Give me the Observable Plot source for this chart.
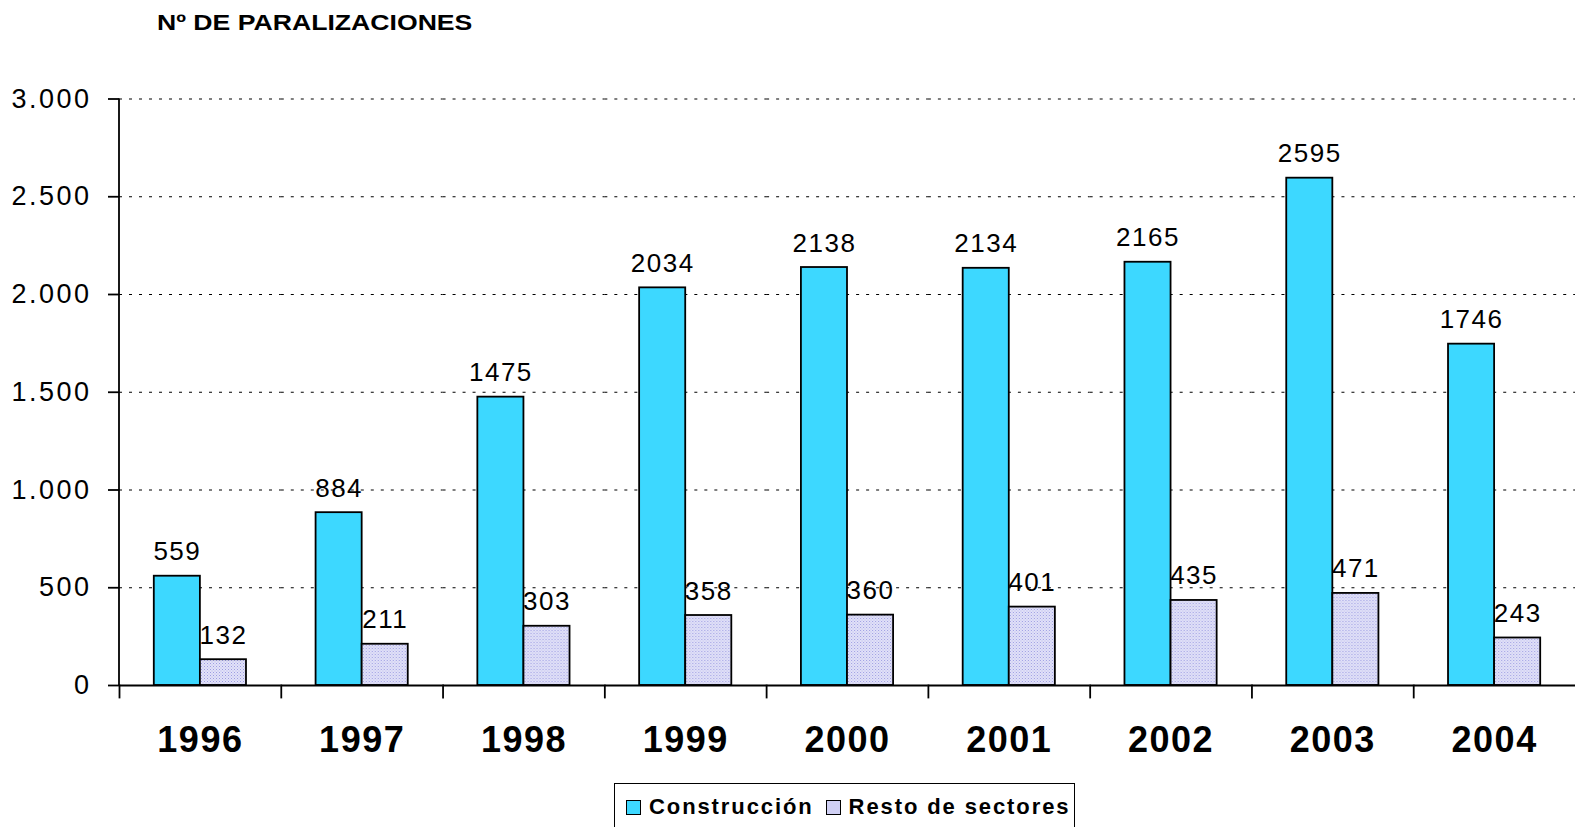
<!DOCTYPE html>
<html>
<head>
<meta charset="utf-8">
<script src="https://cdn.jsdelivr.net/npm/d3@7"></script>
<script src="https://cdn.jsdelivr.net/npm/@observablehq/plot@0.6"></script>
<style>
  body { margin: 0; background: #fff; font-family: "Liberation Sans", Arial, sans-serif; }
  #wrap { position: relative; width: 1575px; height: 827px; overflow: hidden; }
  #title { position: absolute; left: 157px; top: 10px; font-size: 22px; font-weight: bold; transform: scaleX(1.21); transform-origin: 0 0; white-space: nowrap; }
  #legend { position: absolute; left: 614px; top: 783px; width: 461px; height: 50px; border: 1.5px solid #000; white-space: nowrap;
            box-sizing: border-box; font-size: 22px; font-weight: bold; letter-spacing: 1.9px; display: flex; align-items: flex-start; padding-top: 10px; padding-left: 11px; }
  .sw { display: inline-block; width: 15px; height: 15px; border: 1.5px solid #000; margin-right: 8px; box-sizing: border-box; flex: none; }
  .item { display: flex; align-items: center; margin-right: 12px; flex: none; }
  #chart { position: absolute; left: 0; top: 0; }
  #chart svg text { letter-spacing: 1.5px; }
  #chart svg g[aria-label="y-axis tick label"] text { letter-spacing: 2.5px; }
</style>
</head>
<body>
<div id="wrap">
  <div id="chart"></div>
  <div id="title">Nº DE PARALIZACIONES</div>
  <div id="legend">
    <span class="item"><span class="sw" style="background:#3dd8ff"></span>Construcción</span>
    <span class="item"><span class="sw" style="background:#d0d0f4"></span>Resto de sectores</span>
  </div>
</div>
<script>
const years = ["1996","1997","1998","1999","2000","2001","2002","2003","2004"];
const series = ["Construcción", "Resto de sectores"];
const construccion = [559, 884, 1475, 2034, 2138, 2134, 2165, 2595, 1746];
const resto = [132, 211, 303, 358, 360, 401, 435, 471, 243];
const yTicks = [0, 500, 1000, 1500, 2000, 2500, 3000];

const data = [];
years.forEach((y, i) => {
  data.push({year: y, series: series[0], value: construccion[i]});
  data.push({year: y, series: series[1], value: resto[i]});
});

const fmt = d3.formatLocale({decimal: ",", thousands: ".", grouping: [3]}).format(",d");
const fontFamily = "'Liberation Sans', Arial, sans-serif";

const chart = Plot.plot({
  width: 1575,
  height: 775,
  marginLeft: 119,
  marginRight: 0,
  marginTop: 98.5,
  marginBottom: 90,
  style: {fontFamily, color: "#000", background: "transparent"},
  fx: {domain: years, padding: 0, round: false},
  x: {domain: series, paddingInner: 0, paddingOuter: 0.755, axis: null, round: false},
  y: {domain: [0, 3000], axis: null},
  color: {domain: series, range: ["#3dd8ff", "url(#dots)"]},
  marks: [
    Plot.ruleY(yTicks.filter(d => d > 0), {stroke: "#000", strokeDasharray: "3,7", strokeWidth: 1.2}),
    Plot.barY(data, {fx: "year", x: "series", y: "value", fill: "series", stroke: "#000", strokeWidth: 1.8}),
    Plot.text(data, {fx: "year", x: "series", y: "value", text: d => String(d.value), dy: -16, lineAnchor: "bottom", fontSize: 26}),
    Plot.ruleY([0], {stroke: "#000", strokeWidth: 1.8}),
    Plot.frame({anchor: "left", insetTop: 586.5, insetBottom: -12, stroke: "#000", strokeWidth: 1.8}),
    Plot.axisY({ticks: yTicks, tickFormat: fmt, tickSize: 11, tickPadding: 17, fontSize: 27, label: null, stroke: "#000", strokeWidth: 1.8}),
    Plot.axisFx({anchor: "bottom", tickSize: 0, tickPadding: 41, fontSize: 36, fontWeight: "bold", label: null})
  ]
});

const svg = d3.select(chart);
const ys = chart.scale("y");
// y-axis line along the left edge of the plot area
svg.append("line").attr("x1", 119).attr("x2", 119).attr("y1", ys.apply(3000)).attr("y2", ys.apply(0)).attr("stroke", "#000").attr("stroke-width", 1.8);
const defs = svg.insert("defs", ":first-child");
const pat = defs.append("pattern").attr("id", "dots").attr("width", 3).attr("height", 3).attr("patternUnits", "userSpaceOnUse");
pat.append("rect").attr("width", 3).attr("height", 3).attr("fill", "#e2e2f8");
pat.append("rect").attr("width", 1).attr("height", 1).attr("fill", "#9c9ce2");
pat.append("rect").attr("x", 1.5).attr("y", 1.5).attr("width", 1).attr("height", 1).attr("fill", "#b4b4ea");
document.getElementById("chart").appendChild(chart);
</script>
</body>
</html>
